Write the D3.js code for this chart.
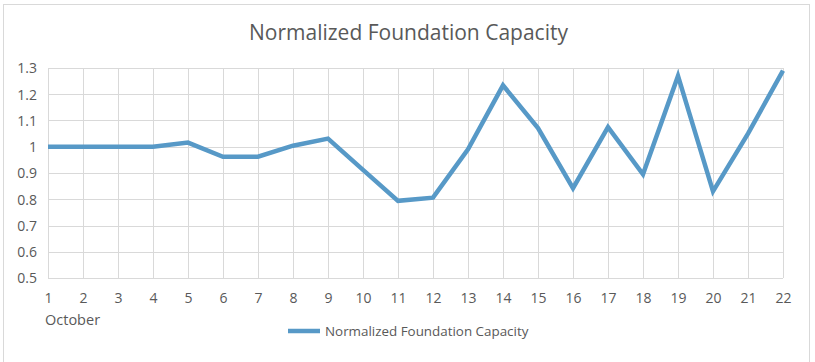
<!DOCTYPE html>
<html>
<head>
<meta charset="utf-8">
<script src="https://cdn.jsdelivr.net/npm/d3@7"></script>
<style>
    body { margin: 0; background: #ffffff; }
    svg text { font-family: "Open Sans", "Noto Sans", sans-serif; fill: #595959; }
</style>
</head>
<body>
<div id="chart"></div>
<script>
var chart_title = "Normalized Foundation Capacity";
var series_name = "Normalized Foundation Capacity";
var axis_label = "October";
var days = [1, 2, 3, 4, 5, 6, 7, 8, 9, 10, 11, 12, 13, 14, 15, 16, 17, 18, 19, 20, 21, 22];
var capacity = [1.0, 1.0, 1.0, 1.0, 1.016, 0.962, 0.962, 1.004, 1.031, 0.912, 0.794, 0.806,
                0.99, 1.234, 1.071, 0.842, 1.075, 0.895, 1.27, 0.83, 1.05, 1.29];
var y_ticks = [0.5, 0.6, 0.7, 0.8, 0.9, 1, 1.1, 1.2, 1.3];

var width = 815;
var height = 362;
var margin = {left: 48, right: 32, top: 68, bottom: 84};

var svg = d3.select("#chart").append("svg")
            .attr("width", width)
            .attr("height", height);

// chart frame
svg.append("rect")
   .attr("x", 3.5)
   .attr("y", 4.5)
   .attr("width", 806)
   .attr("height", 370)
   .attr("fill", "none")
   .attr("stroke", "#d9d9d9");

var x = d3.scalePoint()
          .domain(days)
          .range([margin.left, width - margin.right]);

var y = d3.scaleLinear()
          .domain([0.5, 1.3])
          .range([height - margin.bottom, margin.top]);

// grid
svg.append("g")
   .selectAll("line.h")
   .data(y_ticks)
   .enter().append("line")
   .attr("x1", margin.left)
   .attr("x2", width - margin.right)
   .attr("y1", function (d) { return Math.round(y(d)) + 0.5; })
   .attr("y2", function (d) { return Math.round(y(d)) + 0.5; })
   .attr("stroke", "#d9d9d9");

svg.append("g")
   .selectAll("line.v")
   .data(days)
   .enter().append("line")
   .attr("x1", function (d) { return Math.round(x(d)) + 0.5; })
   .attr("x2", function (d) { return Math.round(x(d)) + 0.5; })
   .attr("y1", y(1.3))
   .attr("y2", y(0.5))
   .attr("stroke", "#d9d9d9");

// axes (labels only)
var y_axis = svg.append("g")
                .attr("transform", "translate(" + (margin.left - 11) + ",0)")
                .call(d3.axisLeft(y).tickValues(y_ticks).tickSize(0).tickFormat(d3.format("")));
y_axis.select(".domain").remove();
y_axis.selectAll("text").attr("font-size", 14).attr("dy", "0.35em").attr("x", 0);

var x_axis = svg.append("g")
                .attr("transform", "translate(0," + (height - margin.bottom + 12) + ")")
                .call(d3.axisBottom(x).tickSize(0));
x_axis.select(".domain").remove();
x_axis.selectAll("text").attr("font-size", 14).attr("dy", "0.71em");

svg.append("text")
   .attr("x", 45)
   .attr("y", 325)
   .attr("font-size", 14.5)
   .text(axis_label);

// title
svg.append("text")
   .attr("x", width / 2 + 1)
   .attr("y", 40)
   .attr("text-anchor", "middle")
   .attr("font-size", 21)
   .text(chart_title);

// series line
var line = d3.line()
             .x(function (d, i) { return x(days[i]); })
             .y(function (d) { return y(d); });

svg.append("path")
   .datum(capacity)
   .attr("d", line)
   .attr("fill", "none")
   .attr("stroke", "#5799c7")
   .attr("stroke-width", 4.5)
   .attr("stroke-linejoin", "miter");

// legend
svg.append("line")
   .attr("x1", 288)
   .attr("x2", 320)
   .attr("y1", 331)
   .attr("y2", 331)
   .attr("stroke", "#5799c7")
   .attr("stroke-width", 4.5);

svg.append("text")
   .attr("x", 325)
   .attr("y", 331)
   .attr("dy", "0.35em")
   .attr("font-size", 13.4)
   .text(series_name);
</script>
</body>
</html>
